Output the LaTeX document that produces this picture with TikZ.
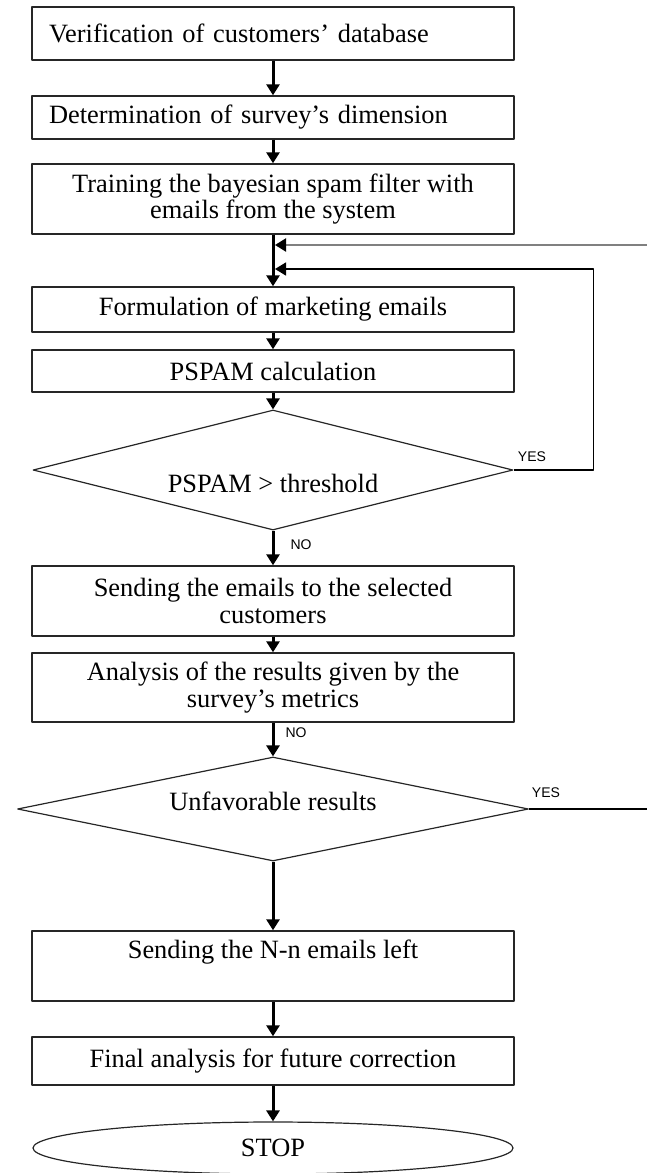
\documentclass[tikz,border=0pt]{standalone}
\usepackage{fontspec}
\setmainfont{Liberation Serif}
\newfontfamily\yesnofont{Liberation Sans}
\usetikzlibrary{arrows.meta,shapes.geometric}

\begin{document}
\begin{tikzpicture}[x=0.5pt,y=-0.5pt,>={Triangle[length=5.5pt,width=6.5pt]},line join=round,
  box/.style={draw=black!85,line width=0.7pt,minimum width=241pt,inner sep=0pt,
    font=\fontsize{13.2}{13.2}\selectfont,align=center},
  leftbox/.style={box,align=left,text width=224pt,inner xsep=8.5pt},
  decision/.style={diamond,draw=black!85,line width=0.6pt,inner sep=0pt},
  flow/.style={->,line width=1.5pt},
  loopline/.style={line width=0.7pt},
  answer/.style={font=\yesnofont\fontsize{7}{8}\selectfont}]
  \useasboundingbox (0,0) rectangle (647,1173);
  % steps
  \node[leftbox,minimum height=26.5pt] (verif) at (273,33.5) {Verification of customers' database};
  \node[leftbox,minimum height=21.5pt] (dimen) at (273,117.5) {Determination of survey's dimension};
  \node[box,minimum height=35pt] (train) at (273,199) {Training the bayesian spam filter with\\emails from the system};
  \node[box,minimum height=22.5pt] (formul) at (273,309.5) {Formulation of marketing emails};
  \node[box,minimum height=21pt] (pspam) at (273,371) {PSPAM calculation};
  \node[decision,minimum width=240pt,minimum height=60pt,
    label={[font=\fontsize{13.2}{13.2}\selectfont,yshift=-6.5pt]center:PSPAM > threshold}] (thresh) at (273,470) {};
  \node[box,minimum height=35pt] (send) at (273,601) {Sending the emails to the selected\\customers};
  \node[box,minimum height=34.5pt] (analys) at (273,687.5) {Analysis of the results given by the\\survey's metrics};
  \node[decision,minimum width=255.5pt,minimum height=52pt,
    label={[font=\fontsize{13.2}{13.2}\selectfont,yshift=4pt]center:Unfavorable results}] (unfav) at (273,809) {};
  \node[box,minimum height=35pt] (sendrest) at (273,966) {Sending the N-n emails left\\ \strut};
  \node[box,minimum height=24pt] (final) at (273,1061) {Final analysis for future correction};
  \node[ellipse,draw=black!85,line width=0.6pt,minimum width=240pt,minimum height=26pt,inner sep=0pt,
    font=\fontsize{13.2}{13.2}\selectfont] (stop) at (273,1148) {STOP};
  % feedback ends
  \coordinate (fbA) at (275,245);
  \coordinate (fbB) at (275,269);
  \coordinate (edgeA) at (647,245);
  \coordinate (edgeB) at (647,809);
  % main flow
  \draw[flow] (verif) -- (dimen);
  \draw[flow] (dimen) -- (train);
  \draw[flow] (train) -- (formul);
  \draw[flow] (formul) -- (pspam);
  \draw[flow] (pspam) -- (thresh);
  \draw[flow] (thresh) -- (send);
  \draw[flow] (send) -- (analys);
  \draw[flow] (analys) -- (unfav);
  \draw[flow] (unfav) -- (sendrest);
  \draw[flow] (sendrest) -- (final);
  \draw[flow] (final) -- (stop);
  % loops
  \draw[line width=1pt,gray,-{Triangle[length=5.5pt,width=6.5pt,black]}] (edgeA) -- (fbA);
  \draw[loopline,->] (thresh.east) -- ++(80,0) |- (fbB);
  \draw[loopline] (unfav.east) -- (edgeB);
  % answers
  \node[answer] (yesA) at (532,457) {YES};
  \node[answer] (noA) at (301,545) {NO};
  \node[answer] (noB) at (296,733) {NO};
  \node[answer] (yesB) at (546,793) {YES};
\end{tikzpicture}
\end{document}
